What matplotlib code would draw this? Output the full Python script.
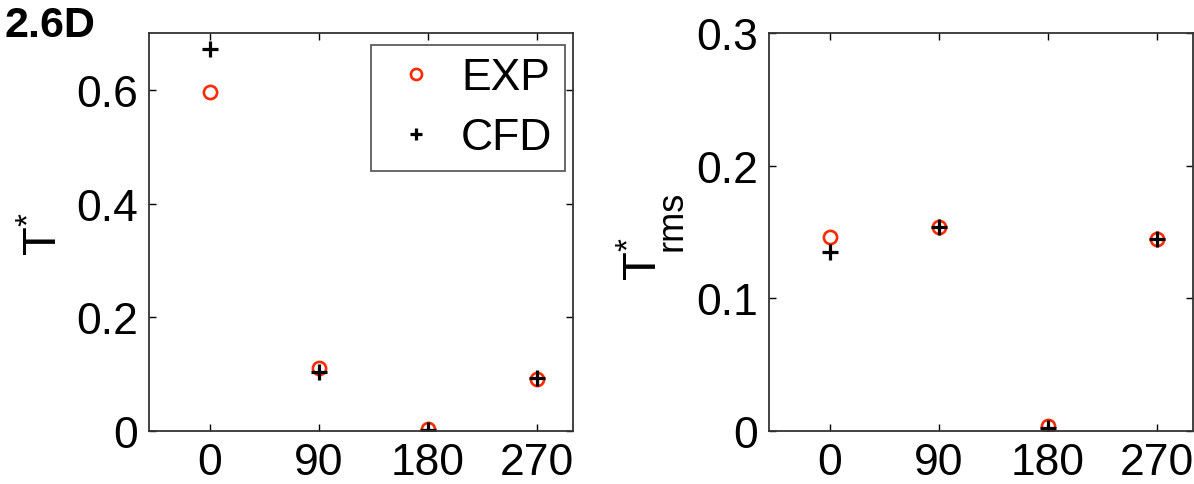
import matplotlib
matplotlib.use("Agg")
import matplotlib.pyplot as plt

angles = [0, 90, 180, 270]
t_exp = [0.596, 0.110, 0.004, 0.091]
t_cfd = [0.671, 0.104, 0.002, 0.094]
trms_exp = [0.146, 0.154, 0.004, 0.145]
trms_cfd = [0.135, 0.154, 0.002, 0.145]
xtick_labels = ["0", "90", "180", "270"]
left_yticks = [0, 0.2, 0.4, 0.6]
left_yticklabels = ["0", "0.2", "0.4", "0.6"]
right_yticks = [0, 0.1, 0.2, 0.3]
right_yticklabels = ["0", "0.1", "0.2", "0.3"]

plt.rcParams['font.family'] = ['Liberation Sans', 'DejaVu Sans']
plt.rcParams['mathtext.fontset'] = 'custom'
plt.rcParams['mathtext.rm'] = 'Liberation Sans'
plt.rcParams['mathtext.it'] = 'Liberation Sans'

RED = '#ff2a00'
FS = 32
W, H = 1194, 485

fig = plt.figure(figsize=(11.94, 4.85), dpi=100)
ax1 = fig.add_axes([0.1250, 0.1093, 0.3551, 0.8206])
ax2 = fig.add_axes([0.6443, 0.1093, 0.3551, 0.8206])

def style(ax, yticks, yticklabels, ylim):
    ax.set_xlim(-50, 300)
    ax.set_ylim(*ylim)
    ax.set_xticks(angles)
    ax.set_xticklabels(xtick_labels)
    ax.set_yticks(yticks)
    ax.set_yticklabels(yticklabels)
    ax.tick_params(direction='in', length=5, width=1, top=True, right=True,
                   labelsize=FS, pad=8)
    for s in ax.spines.values():
        s.set_linewidth(1.3)
        s.set_color('#333333')

def ptext(x, y, s, size):
    fig.text(x / W, 1 - y / H, s, fontsize=size, rotation=90,
             rotation_mode='anchor', ha='left', va='baseline')

ax1.plot(angles, t_exp, linestyle='none', marker='o', markersize=9.5,
         markerfacecolor='none', markeredgecolor=RED, markeredgewidth=1.9, label='EXP')
ax1.plot(angles, t_cfd, linestyle='none', marker='+', markersize=11,
         color='black', markeredgewidth=2.3, label='CFD')
style(ax1, left_yticks, left_yticklabels, (0, 0.7))
ptext(57, 256, r'$\mathrm{T}^{*}$', 34)

leg = ax1.legend(loc='upper right', fontsize=FS, frameon=True, fancybox=False,
                 edgecolor='#333333', handlelength=1.47, handletextpad=0.27,
                 borderpad=0.28, labelspacing=0.43, borderaxespad=0,
                 bbox_to_anchor=(0.980, 0.970))
leg.get_frame().set_linewidth(1.3)
for h in leg.legend_handles:
    h.set_markersize(8)

ax2.plot(angles, trms_exp, linestyle='none', marker='o', markersize=9.5,
         markerfacecolor='none', markeredgecolor=RED, markeredgewidth=1.9)
ax2.plot(angles, trms_cfd, linestyle='none', marker='+', markersize=11,
         color='black', markeredgewidth=2.3)
style(ax2, right_yticks, right_yticklabels, (0, 0.3))
ptext(657, 281, r'$\mathrm{T}^{*}$', 34)
ptext(681, 251, 'rms', 26)

fig.text(0.004, 0.988, '2.6D', fontsize=31, fontweight='bold', va='top', ha='left')

fig.savefig('out.png', dpi=100)
